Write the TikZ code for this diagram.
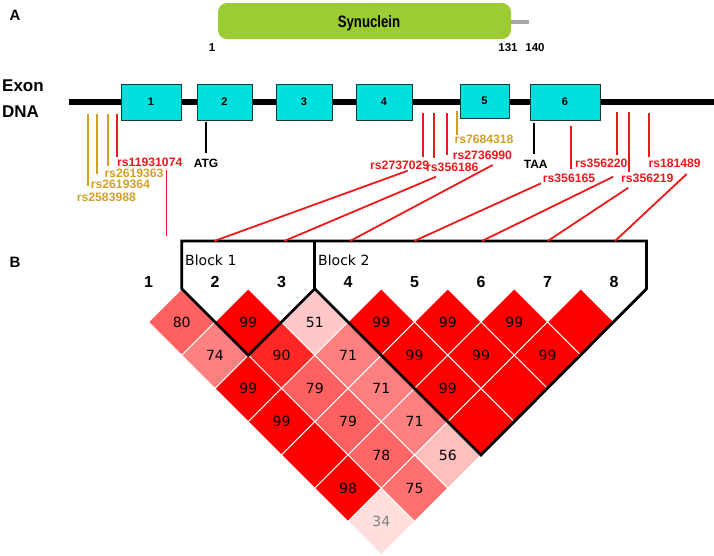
\documentclass[tikz,border=0pt]{standalone}
\usepackage{graphicx}
\usepackage{fontspec}
\setmainfont{Liberation Sans}
\newfontfamily\djv{DejaVu Sans}
\usetikzlibrary{shapes.geometric}
\definecolor{snpred}{RGB}{235,25,25}
\definecolor{snpgold}{RGB}{210,160,40}
\definecolor{exoncyan}{RGB}{0,222,222}
\definecolor{exonedge}{RGB}{20,60,60}
\definecolor{synuc}{RGB}{155,204,50}
\definecolor{tailgrey}{RGB}{165,165,165}
\begin{document}
\begin{tikzpicture}[x=1pt,y=-1pt]
\tikzset{
 snplbl/.style={font=\fontsize{12.2}{13}\selectfont\bfseries, anchor=west, inner sep=0pt},
 rsred/.style={snplbl, text=snpred},
 rsgold/.style={snplbl, text=snpgold},
 codon/.style={font=\fontsize{12}{13}\selectfont\bfseries, inner sep=0pt},
 aanum/.style={font=\fontsize{11.5}{12}\selectfont\bfseries, inner sep=0pt},
 exonbox/.style={draw=exonedge, fill=exoncyan, line width=0.8pt, inner sep=0pt, font=\fontsize{11}{12}\selectfont\bfseries},
 tickred/.style={snpred, line width=2pt},
 tickgold/.style={snpgold, line width=2pt},
 tickblk/.style={black, line width=2pt},
 ldlink/.style={snpred, line width=1.8pt},
 ldcell/.style={diamond, minimum width=66.5pt, minimum height=66.5pt, inner sep=0pt, outer sep=0pt, draw=white, line width=1pt, font=\djv\fontsize{14}{14}\selectfont},
 marklbl/.style={font=\fontsize{16}{16}\selectfont\bfseries, inner sep=0pt},
 blklbl/.style={font=\djv\fontsize{14}{14}\selectfont, inner sep=0pt, anchor=west},
 panel/.style={font=\fontsize{15}{15}\selectfont\bfseries, inner sep=0pt},
 sidelbl/.style={font=\fontsize{17}{18}\selectfont\bfseries, inner sep=0pt, anchor=west},
 blockline/.style={black, line width=2.8pt, line join=miter},
}
\useasboundingbox (0,0) rectangle (714,555);

% panel letters
\node[panel] (pA) at (15,15) {A};
\node[panel] (pB) at (15,262) {B};

% synuclein protein
\node[fill=synuc, rounded corners=9pt, minimum width=293pt, minimum height=36pt, inner sep=0pt] (syn) at (364.5,21) {};
\node[font=\fontsize{16.5}{17}\selectfont\bfseries, anchor=base, inner sep=0pt] (synlbl) at (369,27) {\scalebox{0.8}[1]{Synuclein}};
\coordinate (tailA) at (511,22);
\coordinate (tailB) at (529,22);
\draw[tailgrey, line width=4pt] (tailA) -- (tailB);
\node[aanum] (aa1) at (212,48) {1};
\node[aanum] (aa131) at (508,48) {131};
\node[aanum] (aa140) at (535,48) {140};

% exon / DNA
\node[sidelbl] (exonlbl) at (2,86) {Exon};
\node[sidelbl] (dnalbl) at (2,112) {DNA};
\coordinate (dnaL) at (69,102);
\coordinate (dnaR) at (714,102);
\draw[black, line width=6pt] (dnaL) -- (dnaR);
\node[exonbox, minimum width=60pt, minimum height=36pt] (e1) at (151,102) {1};
\node[exonbox, minimum width=55pt, minimum height=36pt] (e2) at (224.5,102) {2};
\node[exonbox, minimum width=56pt, minimum height=36pt] (e3) at (304,102) {3};
\node[exonbox, minimum width=56pt, minimum height=36pt] (e4) at (384,102) {4};
\node[exonbox, minimum width=49pt, minimum height=34pt] (e5) at (484.5,101) {5};
\node[exonbox, minimum width=70pt, minimum height=36pt] (e6) at (565,102) {6};

% SNP ticks
\foreach \n/\x/\ya/\yb/\st in {
  g1/88/114/186/tickgold, g2/97.3/114/174/tickgold, g3/107.7/114/166/tickgold, r1/116.7/114/157.3/tickred,
  atg/205.7/122.3/153.3/tickblk,
  r2/423.3/113/157.3/tickred, r3/434/113/158.3/tickred, r4/447.3/113/155/tickred, g4/456.7/110.7/135/tickgold,
  taa/533.7/123.3/154/tickblk,
  r5/571/125.7/169.3/tickred, r6/616.7/112/155/tickred, r7/629/112/171.7/tickred, r8/648.7/112.7/157.3/tickred}
{
  \coordinate (tk\n a) at (\x,\ya);
  \coordinate (tk\n b) at (\x,\yb);
  \draw[\st] (tk\n a) -- (tk\n b);
}

% SNP labels
\node[rsred]  (s11931074) at (117,162) {rs11931074};
\node[rsgold] (s2619363) at (104.3,173) {rs2619363};
\node[rsgold] (s2619364) at (90.7,184) {rs2619364};
\node[rsgold] (s2583988) at (76.7,197) {rs2583988};
\node[codon]  (atg) at (206,163) {ATG};
\node[rsred]  (s2737029) at (370,165) {rs2737029};
\node[rsred]  (s356186) at (426,167) {rs356186};
\node[rsred]  (s2736990) at (452.7,155.5) {rs2736990};
\node[rsgold] (s7684318) at (454.3,139.5) {rs7684318};
\node[codon]  (taa) at (535.7,164.3) {TAA};
\node[rsred]  (s356165) at (542.7,178) {rs356165};
\node[rsred]  (s356220) at (575,163) {rs356220};
\node[rsred]  (s356219) at (621,178) {rs356219};
\node[rsred]  (s181489) at (648.3,163) {rs181489};

% LD cells
\foreach \i/\j/\col/\val/\tc in {
  1/2/red!62/80/black, 2/3/red/99/black, 3/4/red!22/51/black, 4/5/red/99/black,
  5/6/red/99/black, 6/7/red/99/black, 7/8/red//black,
  1/3/red!50/74/black, 2/4/red!85/90/black, 3/5/red!50/71/black, 4/6/red/99/black,
  5/7/red/99/black, 6/8/red/99/black,
  1/4/red/99/black, 2/5/red!62/79/black, 3/6/red!50/71/black, 4/7/red/99/black, 5/8/red//black,
  1/5/red/99/black, 2/6/red!62/79/black, 3/7/red!50/71/black, 4/8/red//black,
  1/6/red//black, 2/7/red!60/78/black, 3/8/red!25/56/black,
  1/7/red/98/black, 2/8/red!56/75/black,
  1/8/red!13/34/gray}
{
  \pgfmathsetmacro\cx{148.5+(\i+\j-2)*33.25}
  \pgfmathsetmacro\cy{322+(\j-\i-1)*33.25}
  \node[ldcell, fill=\col, text=\tc] (ld\i\j) at (\cx,\cy) {\val};
}

% marker numbers
\foreach \k in {1,...,8}{
  \pgfmathsetmacro\mx{148.5+(\k-1)*66.5}
  \node[marklbl] (mk\k) at (\mx,282) {\k};
}

% blocks
\coordinate (bTL) at (181.75,241);
\coordinate (bTR) at (646.5,241);
\coordinate (bR) at (646.5,288.75);
\coordinate (bMid) at (314.75,241);
\draw[blockline] (bTL) -- (bTR) -- (bR) -- (ld48.south) -- (ld34.north) -- (ld23.south) -- (ld12.north) -- cycle;
\draw[blockline] (bMid) -- (ld34.north);
\node[blklbl] (blk1) at (185,260) {Block 1};
\node[blklbl] (blk2) at (318,260) {Block 2};

% links SNP -> LD markers
\foreach \n/\sx/\sy/\ex in {
  2/407.7/170.7/214.3, 3/436/176.7/284.3, 4/492.7/165/350, 5/541/183.3/414.3,
  6/613.3/176.7/482, 7/628.3/187.7/547.7, 8/686.7/174/615}
{
  \coordinate (ls\n) at (\sx,\sy);
  \coordinate (le\n) at (\ex,241);
  \draw[ldlink] (ls\n) -- (le\n);
}
\coordinate (ls1) at (166.5,170);
\coordinate (le1) at (166.5,236);
\draw[ldlink] (ls1) -- (le1);
\end{tikzpicture}
\end{document}
